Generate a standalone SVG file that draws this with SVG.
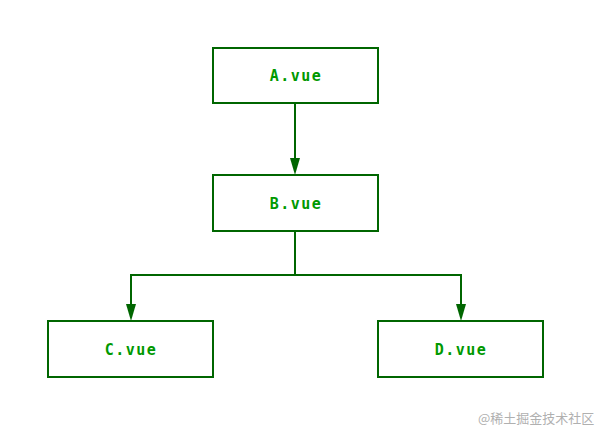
<svg xmlns="http://www.w3.org/2000/svg" width="605" height="439" viewBox="0 0 605 439">
<style>
.box{fill:#fff;stroke:#006600;stroke-width:2}
.lbl{font-family:"DejaVu Sans Mono","Liberation Mono",monospace;font-size:15px;font-weight:bold;fill:#009900;text-anchor:middle;letter-spacing:1.5px}
.edge{fill:none;stroke:#006600;stroke-width:2}
.wm{font-family:"Noto Sans CJK SC",sans-serif;font-size:13px;fill:#b0b0b0}
</style>
<rect width="605" height="439" fill="#fff"/>
<g id="connectors">
<path class="edge" d="M295,104 V160"/>
<polygon points="290,158 300,158 295,175" fill="#006600"/>
<path class="edge" d="M295,231 V275 M131,275 H461 M131,274 V306 M461,274 V306"/>
<polygon points="126,304 136,304 131,321" fill="#006600"/>
<polygon points="456,304 466,304 461,321" fill="#006600"/>
</g>
<g id="A"><rect class="box" x="213" y="48" width="165" height="55"/><text class="lbl" x="296" y="81">A.vue</text></g>
<g id="B"><rect class="box" x="213" y="175" width="165" height="56"/><text class="lbl" x="296" y="209">B.vue</text></g>
<g id="C"><rect class="box" x="48" y="321" width="165" height="56"/><text class="lbl" x="131" y="355">C.vue</text></g>
<g id="D"><rect class="box" x="378" y="321" width="165" height="56"/><text class="lbl" x="461" y="355">D.vue</text></g>
<text class="wm" x="478" y="423">@稀土掘金技术社区</text>
</svg>
